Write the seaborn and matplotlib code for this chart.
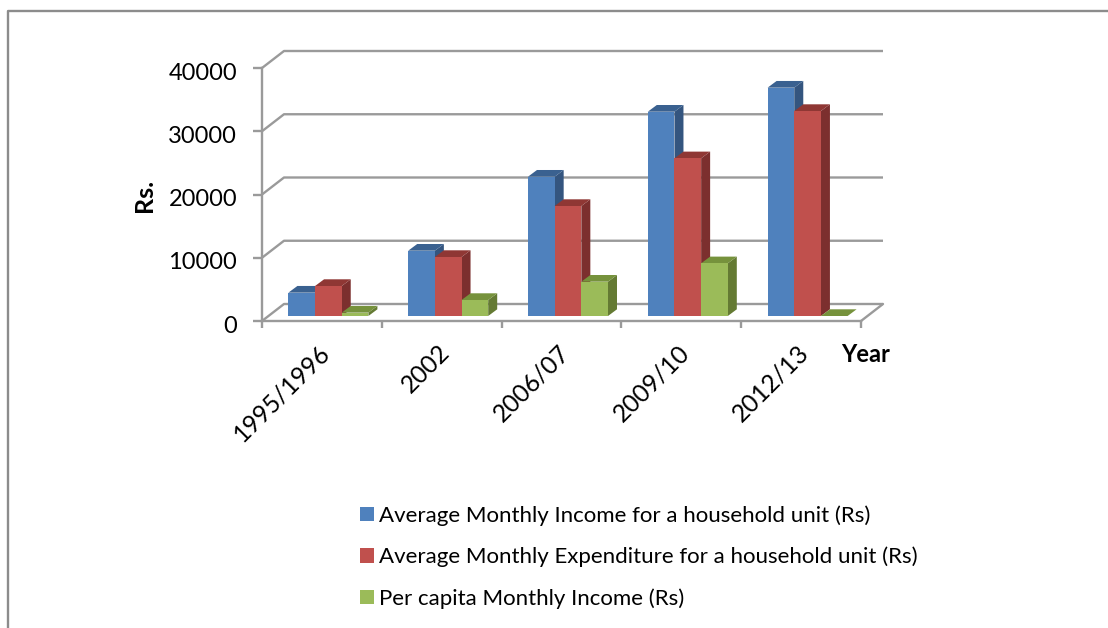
import matplotlib
matplotlib.use("Agg")
import matplotlib.pyplot as plt
import numpy as np
import pandas as pd
import seaborn as sns
from matplotlib.lines import Line2D
from matplotlib.patches import Polygon
from matplotlib.transforms import ScaledTranslation

years = ["1995/1996", "2002", "2006/07", "2009/10", "2012/13"]
income = [3690, 10325, 22025, 32300, 36100]
expenditure = [4743, 9328, 17390, 24930, 32410]
per_capita = [530, 2530, 5423, 8330, 0]
series_names = [
    "Average Monthly Income for a household unit (Rs)",
    "Average Monthly Expenditure for a household unit (Rs)",
    "Per capita Monthly Income (Rs)",
]
y_ticks = [0, 10000, 20000, 30000, 40000]

front = ["#4F81BD", "#C0504D", "#9BBB59"]
top = ["#3A6190", "#8F3734", "#76923C"]
side = ["#34557F", "#7C2F2E", "#647A33"]
grid_col = "#9A9A9A"
frame_col = "#8C8C8C"

W, H = 1108, 628


def main():
    sns.set_theme(style="white")
    plt.rcParams["font.family"] = ["Lato", "DejaVu Sans"]
    plt.rcParams["text.color"] = "black"

    df = pd.DataFrame({"Year": years, series_names[0]: income, series_names[1]: expenditure, series_names[2]: per_capita})
    df = df.melt(id_vars="Year", var_name="Series", value_name="Rs")

    fig = plt.figure(figsize=(W / 100, H / 100), dpi=100)
    ax = fig.add_axes([262 / W, 1 - 321 / H, 599 / W, 253 / H])
    ax.patch.set_alpha(0)

    sns.barplot(
        data=df, x="Year", y="Rs", hue="Series", palette=front, saturation=1,
        width=80 / 119.8, gap=0, linewidth=0, ax=ax, zorder=3,
    )
    ax.set_xlim(-0.5, 4.5)
    ax.set_ylim(0, 40000)

    px_x = 1 / 119.8  # category units per pixel
    px_y = 40000 / 253  # value units per pixel

    # back wall and gridlines
    back_dx, back_dy = 22 * px_x, 17 * px_y
    lw = 1.7
    for v in y_ticks:
        ax.plot([-0.5, -0.5 + back_dx, 4.5 + back_dx], [v, v + back_dy, v + back_dy],
                color=grid_col, lw=lw, clip_on=False, zorder=1, solid_capstyle="butt")
    ax.plot([4.5, 4.5 + back_dx], [0, back_dy], color=grid_col, lw=lw, clip_on=False, zorder=1)

    # shift bars to their plane on the floor and add the depth faces
    shift_x, shift_y = 6.5 * px_x, 5 * px_y
    d_x, d_y = 9 * px_x, 6.7 * px_y
    z = 3.0
    bars = []
    for i, cont in enumerate(ax.containers):
        for p in cont:
            bars.append((p.get_x(), i, p))
    for x0, i, p in sorted(bars, key=lambda b: b[0]):
        h = p.get_height()
        w = p.get_width()
        x = x0 + shift_x
        p.set_x(x)
        p.set_y(shift_y)
        p.set_clip_on(False)
        y0 = shift_y
        y1 = shift_y + h
        ax.add_patch(Polygon([(x + w, y0), (x + w + d_x, y0 + d_y), (x + w + d_x, y1 + d_y), (x + w, y1)],
                             fc=side[i], ec="none", clip_on=False, zorder=z))
        ax.add_patch(Polygon([(x, y1), (x + d_x, y1 + d_y), (x + w + d_x, y1 + d_y), (x + w, y1)],
                             fc=top[i], ec="none", clip_on=False, zorder=z + 0.1))
        p.set_zorder(z + 0.2)
        z += 1

    for s in ["top", "right"]:
        ax.spines[s].set_visible(False)
    for s in ["left", "bottom"]:
        ax.spines[s].set_color(grid_col)
        ax.spines[s].set_linewidth(lw)

    ax.set_yticks(y_ticks)
    ax.set_yticklabels([str(v) for v in y_ticks], fontsize=17, color="black")
    ax.tick_params(axis="y", length=6.5, width=lw, color=grid_col, pad=11.5, left=True)
    down = ScaledTranslation(0, -3 / 100, fig.dpi_scale_trans)
    for t in ax.get_yticklabels():
        t.set_transform(t.get_transform() + down)

    ax.set_xticks(np.arange(-0.5, 5, 1))
    ax.set_xticklabels([""] * 6)
    ax.tick_params(axis="x", which="major", length=5, width=lw, color=grid_col, bottom=True)
    ax.set_xticks(np.arange(5) - 4 * px_x, labels=years, minor=True)
    ax.tick_params(axis="x", which="minor", length=0, pad=14, labelsize=17.7, labelcolor="black")
    for t in ax.get_xticklabels(minor=True):
        t.set_rotation(45)
        t.set_ha("right")
        t.set_rotation_mode("anchor")

    ax.set_xlabel("")
    ax.set_ylabel("")
    fig.text(144 / W, 1 - 195 / H, "Rs.", rotation=90, fontsize=18, fontweight="bold", ha="center", va="center")
    fig.text(866 / W, 1 - 355 / H, "Year", fontsize=17, fontweight="bold", ha="center", va="center")

    handles, labels = ax.get_legend_handles_labels()
    ax.legend(
        handles, labels, loc="upper left", bbox_to_anchor=(360 / W, 1 - 505 / H),
        bbox_transform=fig.transFigure, frameon=False, fontsize=16,
        handlelength=0.63, handleheight=0.63, handletextpad=0.23, labelspacing=0.95,
        borderpad=0, borderaxespad=0, labelcolor="black",
    )

    # chart area border, only top and left visible
    fig.add_artist(Line2D([8 / W, 8 / W, 1], [0, 1 - 11 / H, 1 - 11 / H], color=frame_col, lw=lw))

    fig.savefig("out.png", dpi=100)


if __name__ == "__main__":
    main()
